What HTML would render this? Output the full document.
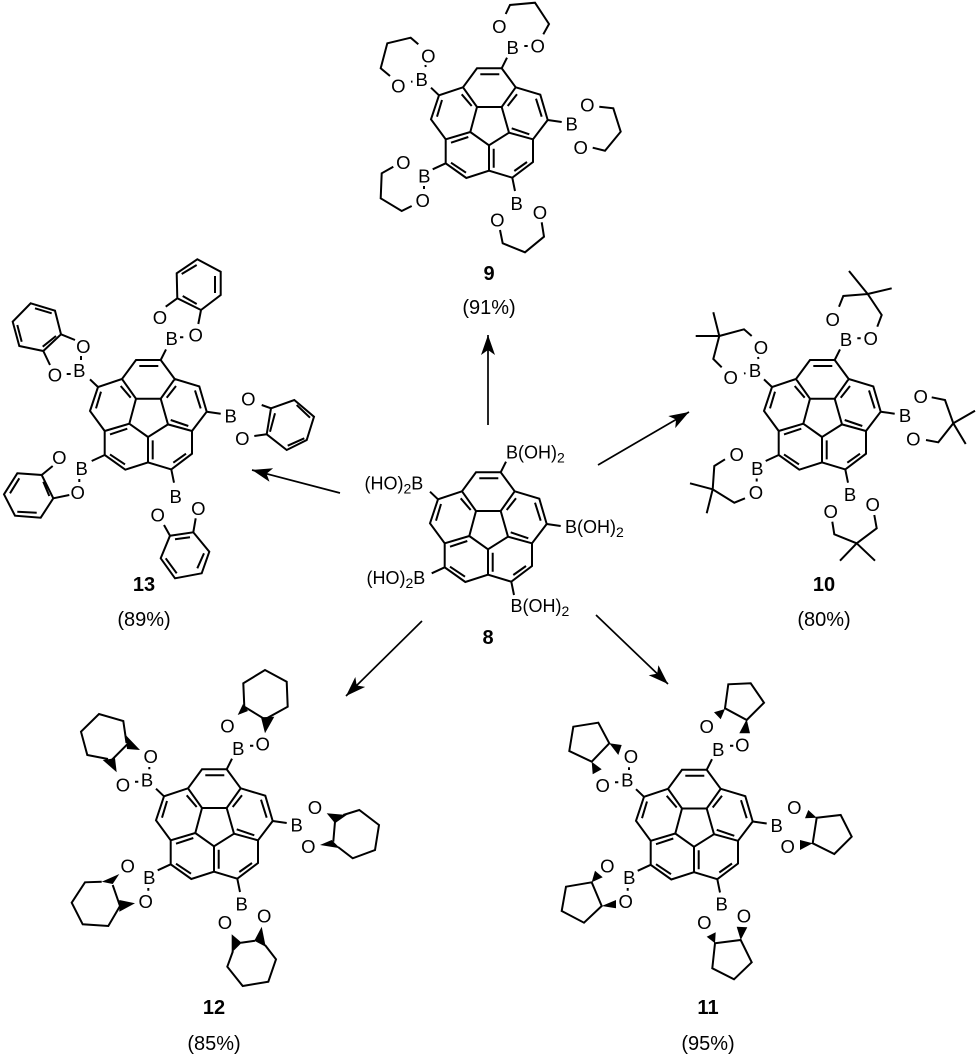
<!DOCTYPE html>
<html><head><meta charset="utf-8"><style>
html,body{margin:0;padding:0;background:#fff}
svg{display:block;filter:blur(0.3px)}
text{font-family:"Liberation Sans",sans-serif;font-size:18.5px;fill:#000}
.c{text-anchor:middle}
.b{font-weight:bold;font-size:20px}
.p{font-size:20px}
.f{font-size:18px}
.s{font-size:14px}
.l{fill:none;stroke:#000;stroke-width:2;stroke-linejoin:miter;stroke-linecap:butt}
</style></head><body>
<svg width="978" height="1056" viewBox="0 0 978 1056" xmlns="http://www.w3.org/2000/svg">
<defs>
<marker id="ah" markerUnits="userSpaceOnUse" markerWidth="22" markerHeight="16" refX="20" refY="7" orient="auto"><path d="M0,0L20,7L0,14L5,7z" fill="#000"/></marker>
<g id="core">
<path class="l" d="M476,472.3L500.7,472.3L514.7,491.3L539.3,498.7L546.7,524L532,543.3L532,566L511.3,581.7L488,574.7L465.3,582L444.7,567.3L444.7,543.3L430,523.3L438,499.3L462,491.3Z
M462,491.3L476,511L500.7,511L514.7,491.3M500.7,511L508,536.7L532,543.3M508,536.7L488,549.3L488,574.7M488,549.3L469.3,536L444.7,543.3M469.3,536L476,511
M479.3,478.3L498.3,478.3M460.7,498.3L470.7,510M516,498.3L506.7,510M535,502.7L540.7,520.7M528.3,538.3L510.7,532.3M526,566L513.3,575M492.7,552.7L492.7,571.7M465,576.7L450,566.7M450,546.7L467.3,541M436,520.7L441,504
M500.7,472.3L506,461.7M546.7,524L560.7,526M511.3,581.7L514,595M444.7,567.3L431.7,573.3M438,499.3L430,491.7"/>
</g>
</defs>

<!-- arrows -->
<g stroke="#000" stroke-width="1.7" fill="none">
<line x1="488" y1="425" x2="488" y2="335" marker-end="url(#ah)"/>
<line x1="598" y1="465" x2="689" y2="412" marker-end="url(#ah)"/>
<line x1="340" y1="493" x2="252" y2="470" marker-end="url(#ah)"/>
<line x1="422" y1="621" x2="346" y2="696" marker-end="url(#ah)"/>
<line x1="596" y1="615" x2="668" y2="684" marker-end="url(#ah)"/>
</g>

<!-- 8 -->
<use href="#core"/>
<text class="f" x="506" y="458.5">B(OH)<tspan dy="4" class="s">2</tspan></text>
<text class="f" x="565" y="533">B(OH)<tspan dy="4" class="s">2</tspan></text>
<text class="f" x="510.5" y="612">B(OH)<tspan dy="4" class="s">2</tspan></text>
<text class="f" x="364.5" y="489.5">(HO)<tspan dy="4" class="s">2</tspan><tspan dy="-4">B</tspan></text>
<text class="f" x="366.5" y="584">(HO)<tspan dy="4" class="s">2</tspan><tspan dy="-4">B</tspan></text>
<text class="c b" x="488" y="644">8</text>

<!-- 9 -->
<use href="#core" transform="translate(1,-404)"/>
<path class="l" d="M505.7,14L510,5L535,2.7L549,24L543.3,34.3M524.3,46L527.7,46
M418.3,44.3L410.7,37.7L387.3,43.3L380.7,68.3L390,76M425.3,65L425.8,67M411,81.7L412.5,81.5
M599.3,106.7L613.3,108.3L620.7,131.7L605,150.7L592.7,147.7
M393.3,166.7L381.7,173.3L380.7,198.3L401.7,211L411.7,206M424,186L424,189
M500,230L502.7,243.3L525,252.3L544,236.7L541.7,222.3"/>
<text class="c" x="512.7" y="54">B</text><text class="c" x="537.7" y="52.5">O</text><text class="c" x="499.3" y="33">O</text>
<text class="c" x="421.7" y="85.8">B</text><text class="c" x="428.3" y="62.5">O</text><text class="c" x="398.3" y="92.5">O</text>
<text class="c" x="571.7" y="130.5">B</text><text class="c" x="587.3" y="111.5">O</text><text class="c" x="580.7" y="153.8">O</text>
<text class="c" x="424.3" y="182.5">B</text><text class="c" x="403.3" y="169.2">O</text><text class="c" x="422.7" y="207.2">O</text>
<text class="c" x="516.7" y="209.8">B</text><text class="c" x="497.3" y="226.5">O</text><text class="c" x="540" y="218.8">O</text>
<text class="c b" x="489" y="280">9</text>
<text class="c p" x="489" y="314">(91%)</text>

<!-- 13 -->
<use href="#core" transform="translate(-340,-112.3)"/>
<path class="l" d="M197.3,259.3L220.7,271.7L220.7,295L201,310L177.3,298.3L176.7,273.3Z
M198.3,324L201,310M165.7,306.7L177.3,298.3M181.7,274L196.7,265M215,276L215,293M196.7,304L182.7,296M180,337.3L183.3,337.3
M30.7,303.3L55,310.7L61,334.3L43.3,351L19.3,346L12.7,321.7Z
M61,334.3L75,340M43.3,351L50,365M35,308.3L51.7,313.3M56,336L42.7,346.7M21.7,341.7L17.3,325M81,356L81,360M66.7,374L70.7,374
M271,408.3L294.3,400L314,416.7L306.7,440L286.7,450L266.7,434.3Z
M261.7,405L271,408.3M254.3,436L266.7,434.3M275,413.3L270,431.7M296.7,405L310,417.7M304.3,438.3L287.7,445.7
M17.3,473.3L41.7,475L53.3,498.3L40.7,517.7L15,515.7L4,494.3Z
M41.7,475L52.7,466M53.3,498.3L69.3,495M10,493.3L19.3,478.3M43.3,481.7L49.3,496M36.7,512.7L17.3,511.7M79.3,479L79.3,482
M170,535.7L193.3,532.3L209.3,551.7L201.7,573.3L175,578.3L160.7,558.3Z
M170,535.7L164,525M193.3,532.3L195.7,518.3M175,539.3L190,537.3M204,553.3L197.3,568.3M176.7,573.3L165.7,558.3"/>
<text class="c" x="171.7" y="344.8">B</text><text class="c" x="195.7" y="341.5">O</text><text class="c" x="160" y="323.8">O</text>
<text class="c" x="79.3" y="377.2">B</text><text class="c" x="83.3" y="353.2">O</text><text class="c" x="55" y="381.5">O</text>
<text class="c" x="230.7" y="422.5">B</text><text class="c" x="248.3" y="405.5">O</text><text class="c" x="242.3" y="444.8">O</text>
<text class="c" x="81.7" y="474.8">B</text><text class="c" x="59.3" y="463.8">O</text><text class="c" x="77.7" y="499.2">O</text>
<text class="c" x="175.7" y="503.2">B</text><text class="c" x="157.7" y="521.5">O</text><text class="c" x="198.3" y="514.8">O</text>
<text class="c b" x="144" y="591">13</text>
<text class="c p" x="144" y="626">(89%)</text>

<!-- 10 -->
<use href="#core" transform="translate(334,-112.3)"/>
<path class="l" d="M839,306.7L843.3,296L867.7,294L881.7,315L877.3,326.7M867.7,294L849,271M867.7,294L891.7,288.3M857.3,338.3L860.7,338.3
M751.7,336L744,329.3L719.3,336L713.3,359L721.7,367.3M719.3,336L713.3,312.3M719.3,336L695.7,336M758,357L758.5,359M744,373.5L745.5,373.2
M931.7,397.3L945,400L953.3,423.3L938.3,442.3L926,440M953.3,423.3L975,410.7M953.3,423.3L965.7,444
M725,459.3L714.3,466L712.7,489.3L734.3,502.7L745,498.3M712.7,489.3L690,483.3M712.7,489.3L706.7,513.3M756.7,478.5L756.7,481.5
M832.3,521.7L834.3,534.3L856.7,543.3L876.7,528.3L874.3,515M856.7,543.3L840,560.7M856.7,543.3L875,560.7"/>
<text class="c" x="846" y="345.8">B</text><text class="c" x="870.7" y="344.8">O</text><text class="c" x="832.7" y="325.8">O</text>
<text class="c" x="755" y="377.2">B</text><text class="c" x="761" y="354.2">O</text><text class="c" x="730.7" y="383.8">O</text>
<text class="c" x="905" y="422.2">B</text><text class="c" x="920.7" y="403.2">O</text><text class="c" x="913.3" y="445.5">O</text>
<text class="c" x="757.3" y="474.8">B</text><text class="c" x="736.7" y="460.8">O</text><text class="c" x="756" y="498.8">O</text>
<text class="c" x="850" y="501">B</text><text class="c" x="830.7" y="518.2">O</text><text class="c" x="872.7" y="510.8">O</text>
<text class="c b" x="824" y="591">10</text>
<text class="c p" x="824" y="626">(80%)</text>

<!-- 12 -->
<use href="#core" transform="translate(-274,297)"/>
<path class="l" d="M244.3,706.7L243.3,683.3L265,670L286.7,681.7L287.7,706.7L265,719.3L244.3,706.7M250,745.7L253.3,745.7
M126.5,743L123.3,721L99,714L81,731.7L87.3,755L108,759M111.7,760L128.3,743.3M149.3,767L149.3,769.3M135,781.7L138.3,781.7
M343.3,815L359.3,810L379,825L375,850L352.7,858.3L338,847M335,821.7L333.3,841.7
M101.7,881.7L85,882.3L71.7,902.7L82.7,924.3L108.3,926L120,906L112.7,885M148.3,888L148.3,890.7
M241,942.7L255,940.7M265,945L276,959.3L268.3,981.7L242.7,986L227.3,966.7L233,951"/>
<g fill="#000">
<polygon points="243,704 248,711 237.7,715"/><polygon points="261,717.3 274.3,716.7 265,733.3"/>
<polygon points="125.7,735 127,749 140,750"/><polygon points="102.7,760 115,758.3 116.7,772.3"/>
<polygon points="326.7,813.3 335,823.3 346.7,815"/><polygon points="320,845 331.7,840 340,848.3"/>
<polygon points="119.3,874 101.7,881.7 112.7,884"/><polygon points="135,903.3 119.3,900 119.3,911.7"/>
<polygon points="231.7,934.3 231.7,952.7 241.7,942.7"/><polygon points="261.7,926.7 254.3,940.7 265.7,946.7"/>
</g>
<text class="c" x="238.3" y="754.8">B</text><text class="c" x="262.7" y="750.5">O</text><text class="c" x="227.5" y="732.5">O</text>
<text class="c" x="147" y="786.5">B</text><text class="c" x="150.7" y="763">O</text><text class="c" x="123" y="791.5">O</text>
<text class="c" x="296.7" y="831.5">B</text><text class="c" x="315" y="814.2">O</text><text class="c" x="308.3" y="853.2">O</text>
<text class="c" x="149.3" y="883.8">B</text><text class="c" x="127.7" y="872.5">O</text><text class="c" x="145.7" y="908.2">O</text>
<text class="c" x="241.7" y="910.5">B</text><text class="c" x="225" y="929.2">O</text><text class="c" x="264.2" y="922.5">O</text>
<text class="c b" x="214" y="1014">12</text>
<text class="c p" x="214" y="1050">(85%)</text>

<!-- 11 -->
<use href="#core" transform="translate(206,297.5)"/>
<path class="l" d="M725,708.3L728.3,684.3L750.7,683.3L764,702.7L746.7,720ZM730,745.7L733.3,745.7
M609.3,743.3L598.3,722.7L573.3,726.7L569.3,751L591.7,761.7ZM615,782.3L618.3,782.3M629,767.3L629,770
M816.7,817.7L840.7,815L851.7,836.7L834.3,854L812.7,843.3Z
M591.7,882.3L566,886.7L561.7,911L584,922.7L601.7,906ZM627.7,888L627.7,890.7
M715,943.3L740.7,940L751.7,962.3L734,979.3L712.3,968.3Z"/>
<g fill="#000">
<polygon points="725,709 714,712.3 720.7,719.3"/><polygon points="746.7,719.3 739.3,733.3 750,733.3"/>
<polygon points="609.3,743.3 621.7,745 618.3,755"/><polygon points="591.7,761.7 601.7,769.3 592.7,774.3"/>
<polygon points="816.7,817.7 808.3,810 805,818.3"/><polygon points="812.7,843.3 800,840 800,850"/>
<polygon points="591.7,882.3 595,870.7 602.7,877.3"/><polygon points="601.7,906 616,900 616,908.3"/>
<polygon points="715,943.3 706.7,936.7 715.7,932.3"/><polygon points="740.7,940 736.7,926.7 747.3,927.3"/>
</g>
<text class="c" x="718.3" y="755.8">B</text><text class="c" x="742.3" y="751.5">O</text><text class="c" x="706.7" y="733.2">O</text>
<text class="c" x="627.3" y="786.5">B</text><text class="c" x="631" y="763.2">O</text><text class="c" x="602.7" y="792.2">O</text>
<text class="c" x="776.7" y="832.2">B</text><text class="c" x="794.3" y="814.2">O</text><text class="c" x="787.7" y="853.2">O</text>
<text class="c" x="629.3" y="883.8">B</text><text class="c" x="607.3" y="872.5">O</text><text class="c" x="625.7" y="908.2">O</text>
<text class="c" x="721.7" y="910.5">B</text><text class="c" x="704.3" y="929.2">O</text><text class="c" x="744" y="922.5">O</text>
<text class="c b" x="708" y="1014">11</text>
<text class="c p" x="708" y="1050">(95%)</text>
</svg>
</body></html>
